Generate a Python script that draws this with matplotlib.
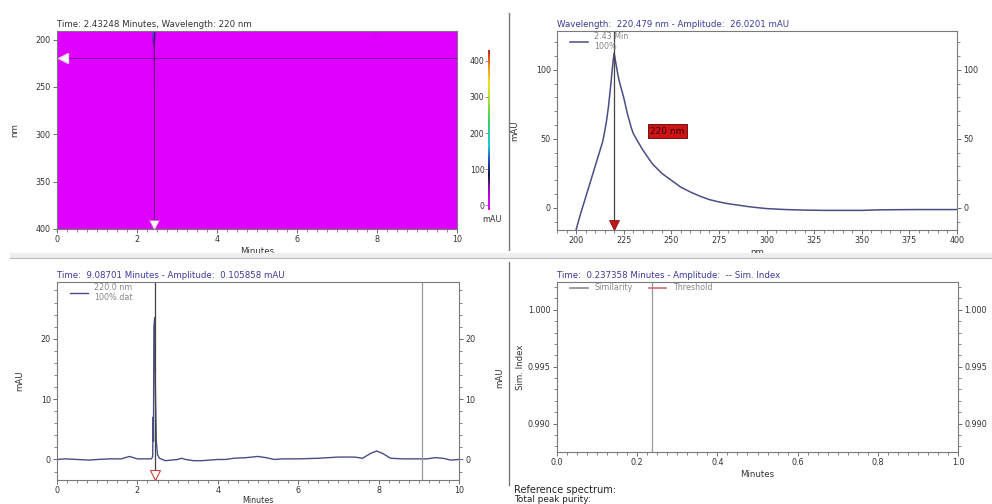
import numpy as np
import matplotlib
matplotlib.use("Agg")
import matplotlib.pyplot as plt
from matplotlib.colors import LinearSegmentedColormap
from matplotlib.ticker import MultipleLocator, FormatStrFormatter

# ---------------- data ----------------
chrom_time = [0.0, 0.2, 0.5, 0.8, 1.0, 1.3, 1.6, 1.8, 1.9, 2.0, 2.2, 2.35, 2.38, 2.39,
              2.40, 2.41, 2.43, 2.44, 2.45, 2.47, 2.5, 2.55, 2.7, 3.0, 3.1, 3.2, 3.4,
              3.6, 3.8, 4.0, 4.2, 4.4, 4.7, 5.0, 5.2, 5.4, 5.6, 6.0, 6.5, 7.0, 7.4,
              7.6, 7.8, 7.95, 8.1, 8.3, 8.6, 9.0, 9.2, 9.4, 9.6, 9.8, 10.0]
chrom_mau = [0.0, 0.1, 0.0, -0.1, 0.0, 0.1, 0.1, 0.5, 0.3, 0.1, 0.1, 0.1, 0.5, 7.0,
             3.0, 22.0, 23.5, 16.0, 10.5, 3.0, 0.8, 0.2, -0.2, 0.0, 0.2, 0.0, -0.2,
             -0.2, -0.1, 0.0, 0.0, 0.2, 0.3, 0.5, 0.3, 0.0, 0.1, 0.1, 0.2, 0.4, 0.4,
             0.2, 1.0, 1.4, 1.0, 0.2, 0.1, 0.1, 0.1, 0.3, 0.2, -0.1, 0.0]

spec_nm = [200, 202, 204, 206, 208, 210, 212, 214, 215, 216, 217, 218, 219, 219.5,
           220, 220.5, 221, 222, 223, 224, 225, 226, 227, 228, 229, 230, 232, 235,
           238, 240, 245, 250, 255, 260, 265, 270, 275, 280, 285, 290, 295, 300,
           310, 320, 330, 350, 360, 380, 400]
spec_mau = [-16, -6, 3, 12, 21, 30, 39, 48, 55, 63, 73, 86, 100, 107,
            112, 108, 104, 96, 90, 85, 80, 74, 68, 63, 58, 54, 49, 42,
            36, 32, 25, 20, 15, 11.5, 8.5, 6, 4.3, 3, 2, 1, 0.2, -0.5,
            -1.2, -1.6, -1.8, -1.8, -1.4, -1.2, -1.2]

# relative absorbance profile over wavelength, used for the 3D (time x nm) map
map_nm = [190, 195, 200, 205, 210, 215, 220, 230, 250, 300, 400]
map_factor = [6.0, 6.0, 5.0, 2.5, 1.2, 1.0, 1.0, 0.5, 0.2, 0.0, 0.0]

cursor_time = 2.43248
cursor_nm = 220
chrom_cursor = 9.08701
sim_cursor = 0.237358

cbar_ticks = [0, 100, 200, 300, 400]

# ---------------- style ----------------
TXT = "#333333"
BLUE_T = "#3a3a9a"
LINE = "#4a4e86"
GRAY = "#888888"
FS_T = 5.8
FS_L = 6.2

fig = plt.figure(figsize=(9.92, 5.04), dpi=100)
fig.patch.set_facecolor("white")

def px(x0, y0, x1, y1):
    W, H = 992, 504
    return [x0 / W, 1 - y1 / H, (x1 - x0) / W, (y1 - y0) / H]

def style(ax, right=True):
    for s in ax.spines.values():
        s.set_color("#7a7a7a")
        s.set_linewidth(0.8)
    ax.tick_params(which="both", direction="out", labelsize=FS_T, colors="#555555",
                   labelcolor=TXT, right=right, labelright=right, top=False)
    ax.tick_params(which="major", length=3, width=0.6, pad=1.5)
    ax.tick_params(which="minor", length=2, width=0.5)

# ---------- top-left: contour map ----------
vmin, vmax = -13, 430
z0 = (0 - vmin) / (vmax - vmin)
cmap = LinearSegmentedColormap.from_list("pda", [
    (0.00, "#e000ff"), (z0 + 0.01, "#e000ff"), (0.14, "#8a10b0"), (0.22, "#101040"),
    (0.30, "#2040c0"), (0.40, "#20c8e0"), (0.55, "#30d060"), (0.70, "#b8e030"),
    (0.80, "#f0e020"), (0.90, "#f09020"), (1.00, "#d02010")])

ax1 = fig.add_axes(px(57, 31, 457, 229))
heat = np.outer(np.array(map_factor), np.array(chrom_mau))
ax1.pcolormesh(np.array(chrom_time), np.array(map_nm), heat, cmap=cmap,
               vmin=vmin, vmax=vmax, shading="gouraud")
ax1.set_xlim(0, 10)
ax1.set_ylim(400, 191)
ax1.axvline(cursor_time, color="#3a1060", lw=0.8, alpha=0.7)
ax1.axhline(cursor_nm, color="#6a0090", lw=0.8, alpha=0.7)
ax1.plot([0.15], [cursor_nm], marker="<", ms=7, color="white", mec="#dddddd")
ax1.plot([cursor_time], [396], marker="v", ms=7, color="white", mec="#cc66cc", mew=0.6)
style(ax1, right=False)
ax1.xaxis.set_major_locator(MultipleLocator(2))
ax1.xaxis.set_minor_locator(MultipleLocator(0.25))
ax1.yaxis.set_major_locator(MultipleLocator(50))
ax1.set_xlabel("Minutes", fontsize=FS_L, color=TXT, labelpad=2)
ax1.set_ylabel("nm", fontsize=FS_L, color=TXT, labelpad=12)
ax1.set_title("Time: 2.43248 Minutes, Wavelength: 220 nm", fontsize=FS_L, color=TXT,
              loc="left", pad=3)

# colorbar
axc = fig.add_axes(px(488, 50, 490, 210))
grad = np.linspace(vmin, vmax, 256).reshape(-1, 1)
axc.imshow(grad, aspect="auto", cmap=cmap, origin="lower",
           extent=[0, 1, vmin, vmax], vmin=vmin, vmax=vmax)
axc.set_xticks([])
axc.set_yticks(cbar_ticks)
for s in axc.spines.values():
    s.set_visible(False)
axc.tick_params(axis="y", direction="out", length=2, width=0.5, labelsize=FS_T - 0.2,
                colors="#666666", labelcolor=TXT, pad=0.5)
fig.text(492 / 992, 1 - 220 / 504, "mAU", fontsize=FS_T, color=TXT, ha="center", va="center")

# ---------- top-right: spectrum ----------
ax2 = fig.add_axes(px(557, 31, 957, 230))
ax2.plot(spec_nm, spec_mau, color=LINE, lw=1.1, label="2.43 Min\n100%")
ax2.set_xlim(190, 400)
ax2.set_ylim(-16, 128)
ax2.axvline(cursor_nm, color="#444444", lw=0.9)
ax2.plot([cursor_nm], [-12.5], marker="v", ms=7, color="#c01818", mec="#7a0000", mew=0.5)
ax2.text(248, 55.5, "220 nm", fontsize=6.5, color="#3a0000", ha="center", va="center",
         bbox=dict(boxstyle="square,pad=0.25", fc="#cc1414", ec="#600000", lw=0.6))
style(ax2)
ax2.xaxis.set_major_locator(MultipleLocator(25))
ax2.xaxis.set_minor_locator(MultipleLocator(5))
ax2.yaxis.set_major_locator(MultipleLocator(50))
ax2.yaxis.set_minor_locator(MultipleLocator(10))
ax2.set_xlabel("nm", fontsize=FS_L, color=TXT, labelpad=2)
ax2.set_ylabel("mAU", fontsize=FS_L, color=TXT, labelpad=12)
ax2.set_title("Wavelength:  220.479 nm - Amplitude:  26.0201 mAU", fontsize=FS_L,
              color=BLUE_T, loc="left", pad=3)
leg = ax2.legend(loc="upper left", frameon=False, fontsize=FS_T, handlelength=2.2,
                 borderaxespad=0.2, bbox_to_anchor=(0.02, 1.02))
for t in leg.get_texts():
    t.set_color(GRAY)

# ---------- bottom-left: chromatogram ----------
ax3 = fig.add_axes(px(57, 282, 459, 480))
ax3.plot(chrom_time, chrom_mau, color=LINE, lw=1.0, label="220.0 nm\n100%.dat")
ax3.set_xlim(0, 10)
ax3.set_ylim(-3.4, 29.4)
ax3.axvline(cursor_time, color="#444444", lw=0.9)
ax3.axvline(chrom_cursor, color="#999999", lw=0.9)
ax3.plot([cursor_time], [-2.6], marker="v", ms=7, color="white", mec="#d04040", mew=0.8)
style(ax3)
ax3.xaxis.set_major_locator(MultipleLocator(2))
ax3.xaxis.set_minor_locator(MultipleLocator(0.25))
ax3.yaxis.set_major_locator(MultipleLocator(10))
ax3.yaxis.set_minor_locator(MultipleLocator(2))
ax3.set_xlabel("Minutes", fontsize=FS_L - 0.4, color=TXT, labelpad=0.5)
ax3.set_ylabel("mAU", fontsize=FS_L, color=TXT, labelpad=12)
ax3.set_title("Time:  9.08701 Minutes - Amplitude:  0.105858 mAU", fontsize=FS_L,
              color=BLUE_T, loc="left", pad=3)
leg = ax3.legend(loc="upper left", frameon=False, fontsize=FS_T, handlelength=2.2,
                 borderaxespad=0.2, bbox_to_anchor=(0.02, 1.02))
for t in leg.get_texts():
    t.set_color(GRAY)
fig.text(500 / 992, 1 - 378 / 504, "mAU", fontsize=FS_L, color=TXT, rotation=90,
         ha="center", va="center")

# ---------- bottom-right: similarity ----------
ax4 = fig.add_axes(px(557, 282, 958, 452))
ax4.plot([], [], color="#8a8a8a", lw=1.2, label="Similarity")
ax4.plot([], [], color="#d07070", lw=1.2, label="Threshold")
ax4.axvline(sim_cursor, color="#999999", lw=0.9)
ax4.set_xlim(0, 1)
ax4.set_ylim(0.9875, 1.00245)
style(ax4)
ax4.xaxis.set_major_locator(MultipleLocator(0.2))
ax4.xaxis.set_minor_locator(MultipleLocator(0.025))
ax4.yaxis.set_major_locator(MultipleLocator(0.005))
ax4.yaxis.set_minor_locator(MultipleLocator(0.001))
ax4.yaxis.set_major_formatter(FormatStrFormatter("%.3f"))
ax4.xaxis.set_major_formatter(FormatStrFormatter("%.1f"))
ax4.set_xlabel("Minutes", fontsize=FS_L, color=TXT, labelpad=2)
ax4.set_ylabel("Sim. Index", fontsize=FS_L, color=TXT, labelpad=2)
ax4.set_title("Time:  0.237358 Minutes - Amplitude:  -- Sim. Index", fontsize=FS_L,
              color=BLUE_T, loc="left", pad=3)
leg = ax4.legend(loc="upper left", frameon=False, fontsize=FS_T, ncol=2,
                 handlelength=2.2, columnspacing=2.0, borderaxespad=0.2,
                 bbox_to_anchor=(0.02, 1.02))
for t in leg.get_texts():
    t.set_color(GRAY)

fig.text(514 / 992, 1 - 490 / 504, "Reference spectrum:", fontsize=7.0, color="#222222",
         ha="left", va="center")
fig.text(514 / 992, 1 - 499.5 / 504, "Total peak purity:", fontsize=6.4, color="#222222",
         ha="left", va="center")

# ---------- frame decorations ----------
fig.add_artist(plt.Line2D([509 / 992, 509 / 992], [1 - 13 / 504, 1 - 250 / 504],
                          color="#777777", lw=1.0))
fig.add_artist(plt.Line2D([509 / 992, 509 / 992], [1 - 262 / 504, 1 - 485 / 504],
                          color="#777777", lw=1.0))
fig.add_artist(plt.Rectangle((10 / 992, 1 - 258 / 504), 982 / 992, 5 / 504,
                             color="#eeeeee", lw=0))
fig.add_artist(plt.Line2D([10 / 992, 1], [1 - 258 / 504, 1 - 258 / 504],
                          color="#bbbbbb", lw=0.8))

fig.savefig("out.png", dpi=100)
